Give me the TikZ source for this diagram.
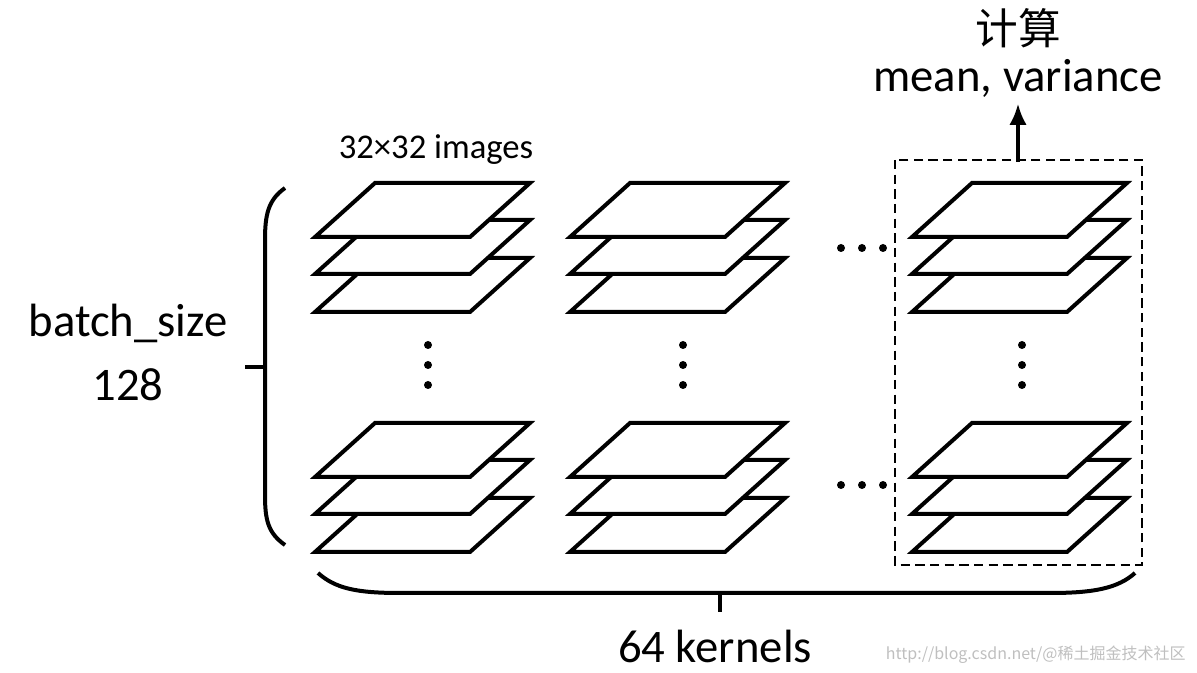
\documentclass[tikz,border=0pt]{standalone}
\usetikzlibrary{arrows.meta}
\usepackage{fontspec}
\setmainfont{Carlito}
\newfontfamily\cjk{Noto Sans CJK SC}
\begin{document}
\begin{tikzpicture}[x=0.75pt,y=-0.75pt,line width=3pt,
  plane/.style={fill=white,line join=miter},
  dot/.style={circle,fill=black,inner sep=0pt,minimum size=6pt},
  lbl/.style={font=\fontsize{35}{38}\selectfont}]
\useasboundingbox (0,0) rectangle (1197,673);
\newcommand\myplane[2]{\draw[plane] (#1+60,#2) -- ++(155,0) -- ++(-60,54) -- ++(-155,0) -- cycle;}
\newcommand\mystack[2]{\myplane{#1}{#2+75}\myplane{#1}{#2+37}\myplane{#1}{#2}}
\foreach \x in {315,570,912}{\mystack{\x}{183}\mystack{\x}{423}}
\foreach \x in {428,683,1022}{\foreach \y in {345,365,385}{\node[dot] at (\x,\y){};}}
\foreach \x in {841,862,883}{\node[dot] at (\x,248){};\node[dot] at (\x,485){};}
\draw[dash pattern=on 7pt off 4pt,line width=1.5pt] (895,160) rectangle (1142,565);
\coordinate (a0) at (1018,162);
\node[lbl] (mv) at (1018,78) {mean, variance};
\node[font=\fontsize{32}{36}\cjk] (js) at (1018,28) {计算};
\draw[-{Latex[length=16pt,width=13pt]}] (a0) -- (mv.south);
\node[font=\fontsize{26}{30}\selectfont] (im) at (436,150) {32×32 images};
\node[lbl] (bs) at (128,323) {batch\_size};
\node[lbl] (n128) at (128,385) {128};
\node[lbl,inner sep=0pt] (k) at (715,646) {64 kernels};
\draw (285,188) .. controls (268,200) and (265,215) .. (265,240) -- (265,495) .. controls (265,520) and (268,533) .. (285,545);
\coordinate (lt) at (245,367); \draw (lt) -- (265,367);
\draw (318,573) .. controls (335,588) and (355,593) .. (400,593) -- (1050,593) .. controls (1095,593) and (1118,588) .. (1135,573);
\coordinate (bt) at (720,612); \draw (bt) -- (720,593);
\node[text=black!25,font=\fontsize{12}{14}\cjk,anchor=east] (wm) at (1192,655) {http://blog.csdn.net/@稀土掘金技术社区};
\end{tikzpicture}
\end{document}
